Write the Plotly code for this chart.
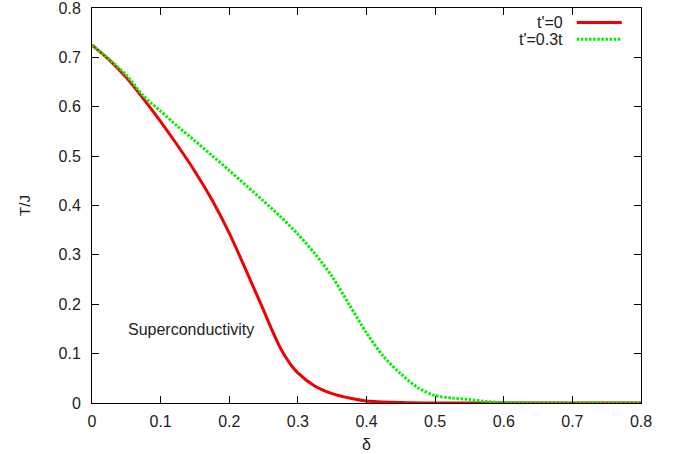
import plotly.graph_objects as go

delta_red = [0, 0.025, 0.05, 0.075, 0.1, 0.125, 0.15, 0.175, 0.2, 0.225, 0.25, 0.2625, 0.275,
             0.2875, 0.3, 0.325, 0.35, 0.375, 0.4, 0.45, 0.5, 0.6, 0.7, 0.8]
tc_t0 = [0.725, 0.695, 0.659, 0.616, 0.570, 0.521, 0.469, 0.411, 0.344, 0.267, 0.188, 0.147, 0.110,
         0.082, 0.061, 0.034, 0.019, 0.010, 0.004, 0.001, 0.0, 0.0, 0.0, 0.0]

delta_green = [0, 0.025, 0.05, 0.075, 0.1, 0.125, 0.15, 0.175, 0.2, 0.225, 0.25, 0.275, 0.3,
               0.325, 0.35, 0.375, 0.4, 0.425, 0.45, 0.475, 0.5, 0.525, 0.55, 0.575, 0.6, 0.7, 0.8]
tc_t03 = [0.725, 0.696, 0.664, 0.622, 0.591, 0.560, 0.531, 0.501, 0.471, 0.440, 0.409, 0.377, 0.342,
          0.302, 0.256, 0.199, 0.142, 0.094, 0.059, 0.031, 0.015, 0.010, 0.007, 0.003, 0.001, 0.0, 0.0]

names = ["t'=0", "t'=0.3t"]
colors = ["#f00000", "#00f000"]
green_dash = "2.5px,1.6px"

font = "Liberation Sans, Arial, sans-serif"
txt = "#222222"

fig = go.Figure()
fig.add_trace(go.Scatter(x=delta_red, y=tc_t0, mode="lines", name=names[0],
                         line=dict(color=colors[0], width=3, shape="spline", smoothing=0.8),
                         showlegend=False))
fig.add_trace(go.Scatter(x=delta_green, y=tc_t03, mode="lines", name=names[1],
                         line=dict(color=colors[1], width=3, dash=green_dash, shape="spline", smoothing=0.8),
                         showlegend=False))

# gnuplot-style legend: text on left, sample on right
leg_y = [0.963, 0.921]
for i in range(2):
    fig.add_annotation(x=0.862, y=leg_y[i], xref="paper", yref="paper", text=names[i],
                       showarrow=False, xanchor="right", yanchor="middle",
                       font=dict(family=font, size=16, color=txt))
    fig.add_shape(type="line", xref="paper", yref="paper", x0=0.883, x1=0.965,
                  y0=leg_y[i], y1=leg_y[i],
                  line=dict(color=colors[i], width=3, dash="solid" if i == 0 else green_dash))

fig.add_annotation(x=0.1445, y=0.149, text="Superconductivity", showarrow=False,
                   xanchor="center", yanchor="middle", font=dict(family=font, size=16, color=txt))

axis_common = dict(showline=True, linecolor="black", linewidth=1, mirror="ticks",
                   ticks="inside", ticklen=7, tickcolor="black", showgrid=False, zeroline=False,
                   automargin=False, ticklabeloverflow="allow",
                   tickfont=dict(family=font, size=16, color=txt))
fig.update_xaxes(range=[0, 0.8], dtick=0.1, tick0=0, ticklabelstandoff=4,
                 title=dict(text="δ", font=dict(family=font, size=16, color=txt), standoff=9),
                 **axis_common)
fig.update_yaxes(range=[0, 0.8], dtick=0.1, tick0=0, ticklabelstandoff=7,
                 title=dict(text="T/J", font=dict(family=font, size=15, color=txt), standoff=24),
                 **axis_common)

fig.update_layout(width=679, height=454, margin=dict(l=92, r=38, t=8, b=51, autoexpand=False),
                  plot_bgcolor="white", paper_bgcolor="white")
fig.write_html("out.html", config={"displayModeBar": False},
               post_script="document.body.style.margin='0';")
